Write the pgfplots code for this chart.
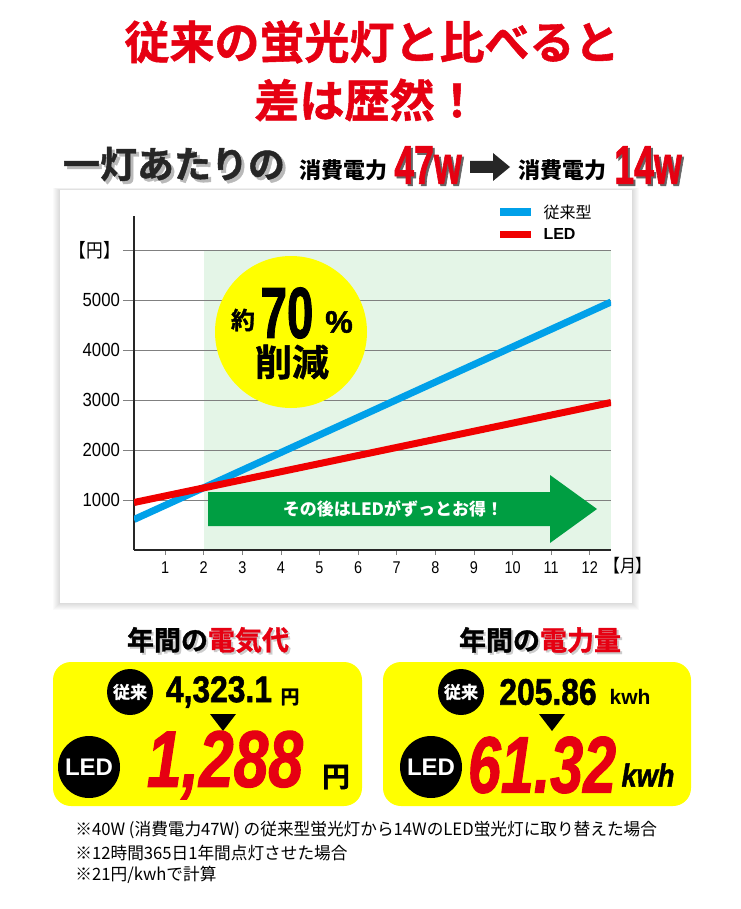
\documentclass[border=0pt]{standalone}
\usepackage{pgfplots}
\pgfplotsset{compat=1.18}
\usepackage{fontspec}
\setmainfont{Liberation Sans}
\newfontfamily\jp{Noto Sans CJK JP}
\newfontfamily\jph{Noto Sans CJK JP}[UprightFont={* Bold}, FakeBold=1.2]
\newfontfamily\heavy{Liberation Sans}[UprightFont={* Bold}, ItalicFont={* Bold Italic}, FakeBold=1.6]

\definecolor{titlered}{RGB}{230,0,18}
\definecolor{lineblue}{RGB}{0,160,233}
\definecolor{linered}{RGB}{240,0,0}
\definecolor{bggreen}{RGB}{228,245,231}
\definecolor{arrowgreen}{RGB}{0,158,66}
\definecolor{boxyellow}{RGB}{255,255,0}

\newcommand{\fs}[1]{\fontsize{#1}{#1}\selectfont}

\begin{document}
\begin{tikzpicture}
\path[use as bounding box] (0,0) rectangle (740pt,-909pt);
\begin{scope}[x=1pt,y=1pt]
  \fill[white] (0,0) rectangle (740,-909);
  % panel shadow
  \foreach \i in {1,...,7}{
    \fill[black,opacity=0.018] (60-\i,-190+\i*0.3) rectangle (632+\i,-603-\i);
  }
  \fill[white] (60,-190) rectangle (632,-603);
  % green zone (from month 2)
  \fill[bggreen] (204,-250) rectangle (611,-550);
\end{scope}

\begin{axis}[
  at={(134pt,-550pt)}, anchor=south west,
  scale only axis, width=477pt, height=334pt,
  xmin=0.195, xmax=12.55, ymin=0, ymax=6680,
  axis x line*=bottom, axis y line*=left,
  axis line style={-, black!85, line width=1.3pt},
  xtick={1,...,12}, minor xtick={1,...,12},
  ytick={1000,2000,3000,4000,5000,6000},
  yticklabels={1000,2000,3000,4000,5000,{\jp【円】}},
  tick align=outside, major tick length=11pt, minor tick length=5pt,
  major x tick style={draw=none},
  minor x tick style={draw=gray, line width=0.8pt},
  ytick style={draw=gray, line width=0.9pt},
  ymajorgrids, y grid style={gray, line width=0.9pt},
  /pgf/number format/assume math mode=true,
  xticklabel style={font=\fs{17}, xscale=0.85, yshift=3pt},
  yticklabel style={font=\fs{19}, xscale=0.88},
]
\addplot[draw=lineblue, line width=7pt] coordinates {(0.195,610) (12.55,4960)};
\addplot[draw=linered, line width=7pt] coordinates {(0.195,950) (12.55,2950)};
\end{axis}

\begin{scope}[x=1pt,y=1pt]
  % title
  \node[text=titlered, font=\jph\fs{45}] at (372,-42) {従来の蛍光灯と比べると};
  \node[text=titlered, font=\jph\fs{45}] at (367,-100) {差は歴然！};

  % subtitle row
  \node[text=gray!55, font=\jph\fs{37}] at (177,-167) {一灯あたりの};
  \node[text=black!85, font=\jph\fs{37}] at (174,-164) {一灯あたりの};
  \node[font=\jp\bfseries\fs{22}] at (343,-170) {消費電力};
  \node[text=black!60, font=\heavy\fs{54}, xscale=0.66] at (430,-167) {47w};
  \node[text=titlered, font=\heavy\fs{54}, xscale=0.66] at (428,-165) {47w};
  \fill[black!85] (470,-161) -- (493,-161) -- (493,-153) -- (510,-167) -- (493,-181) -- (493,-173) -- (470,-173) -- cycle;
  \node[font=\jp\bfseries\fs{22}] at (562,-170) {消費電力};
  \node[text=black!60, font=\heavy\fs{54}, xscale=0.66] at (650,-167) {14w};
  \node[text=titlered, font=\heavy\fs{54}, xscale=0.66] at (648,-165) {14w};

  % legend
  \fill[lineblue] (500,-208) rectangle (531,-216);
  \fill[linered] (500,-231) rectangle (531,-238);
  \node[anchor=west, font=\jp\fs{16}] at (540,-212) {従来型};
  \node[anchor=west, font=\bfseries\fs{16}] at (540,-234) {LED};
  \node[font=\jp\fs{18}, xscale=0.88] at (628,-566) {【月】};

  % savings badge
  \fill[boxyellow] (291,-332) circle (76);
  \node[font=\jph\fs{24}] at (243,-320) {約};
  \node[font=\heavy\fs{72}, xscale=0.66] at (287,-313) {70};
  \node[font=\heavy\fs{31}] at (339,-322) {\%};
  \node[font=\jph\fs{37}] at (292,-362) {削減};

  % green arrow
  \fill[arrowgreen] (208,-492) -- (550,-492) -- (550,-475) -- (597,-509)
    -- (550,-543) -- (550,-526) -- (208,-526) -- cycle;
  \node[text=white, font=\jp\bfseries\fs{17}] at (393,-509) {その後はLEDがずっとお得！};

  % bottom headings
  \node[text=gray!40, font=\jph\fs{27}] at (210,-642) {年間の電気代};
  \node[font=\jph\fs{27}] at (208,-640) {年間の\textcolor{titlered}{電気代}};
  \node[text=gray!40, font=\jph\fs{27}] at (542,-642) {年間の電力量};
  \node[font=\jph\fs{27}] at (540,-640) {年間の\textcolor{titlered}{電力量}};

  % yellow boxes
  \fill[boxyellow, rounded corners=18pt] (53,-662) rectangle (362,-806);
  \fill[boxyellow, rounded corners=18pt] (383,-662) rectangle (691,-806);

  % left box
  \fill[black] (130,-692) circle (23);
  \node[text=white, font=\jph\fs{17}] at (130,-692) {従来};
  \node[font=\heavy\fs{37}, xscale=0.86] at (219,-692) {4,323.1};
  \node[font=\jph\fs{19}] at (290,-697) {円};
  \fill[black] (210,-714) -- (236,-714) -- (223,-731) -- cycle;
  \fill[black] (89,-767) circle (31);
  \node[text=white, font=\bfseries\fs{24}] at (89,-767) {LED};
  \node[text=titlered, font=\heavy\itshape\fs{80}, xscale=0.78] at (225,-765) {1,288};
  \node[font=\jph\fs{28}] at (336,-777) {円};

  % right box
  \fill[black] (461,-692) circle (23);
  \node[text=white, font=\jph\fs{17}] at (461,-692) {従来};
  \node[font=\heavy\fs{37}, xscale=0.86] at (548,-692) {205.86};
  \node[font=\bfseries\fs{21}] at (630,-697) {kwh};
  \fill[black] (539,-714) -- (565,-714) -- (552,-731) -- cycle;
  \fill[black] (431,-767) circle (31);
  \node[text=white, font=\bfseries\fs{24}] at (431,-767) {LED};
  \node[text=titlered, font=\heavy\itshape\fs{80}, xscale=0.74] at (542,-765) {61.32};
  \node[font=\heavy\itshape\fs{32}, xscale=0.85] at (648,-775) {kwh};

  % notes
  \node[anchor=west, font=\jp\fs{17}, xscale=0.98] at (72,-830) {※40W (消費電力47W) の従来型蛍光灯から14WのLED蛍光灯に取り替えた場合};
  \node[anchor=west, font=\jp\fs{17}, xscale=0.98] at (72,-853) {※12時間365日1年間点灯させた場合};
  \node[anchor=west, font=\jp\fs{17}, xscale=0.98] at (72,-875) {※21円/kwhで計算};
\end{scope}
\end{tikzpicture}
\end{document}
